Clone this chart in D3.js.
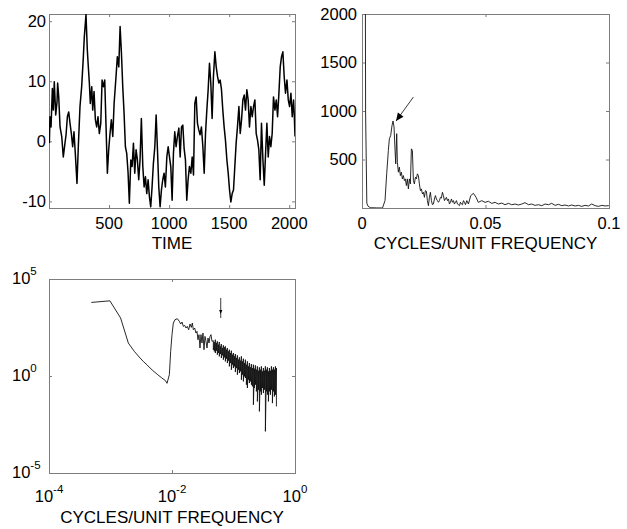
<!DOCTYPE html>
<html>
<head>
<meta charset="utf-8">
<script src="https://cdn.jsdelivr.net/npm/d3@7"></script>
<style>
  body { margin: 0; background: #fff; }
  svg { display: block; }
  text { font-family: "Liberation Sans", Arial, Helvetica, sans-serif; fill: #000; }
</style>
</head>
<body>
<div id="chart-area"></div>
<script>
// ---- Data ----

// Time series
const timeIdx = [3,8,17,28,36,44,56,67,72,81,92,106,119,133,142,153,164,175,186,197,208,219,233,244,258,272,286,294,308,319,328,336,344,356,364,375,386,397,408,419,431,442,453,464,475,486,497,508,519,531,542,558,569,581,592,603,614,625,636,647,658,669,681,692,703,714,725,736,747,758,769,781,792,803,814,825,836,847,858,869,881,892,903,914,925,936,947,958,969,981,992,1003,1014,1025,1036,1047,1058,1069,1081,1092,1103,1114,1125,1136,1147,1158,1169,1181,1192,1203,1214,1225,1236,1247,1258,1269,1281,1292,1303,1314,1325,1336,1347,1358,1369,1381,1392,1403,1414,1425,1436,1447,1458,1469,1481,1492,1503,1514,1525,1536,1547,1558,1569,1581,1592,1603,1614,1625,1636,1647,1658,1669,1681,1692,1703,1714,1725,1736,1747,1758,1769,1781,1792,1803,1814,1825,1836,1847,1858,1869,1881,1892,1903,1914,1925,1936,1947,1958,1969,1981,1992,2003,2014,2025,2036,2042,2048];
const timeVal = [-0.3,4.1,2.4,8.8,5.2,9.9,4.4,6.6,9.7,7.4,2.4,0.8,-2.6,-0.3,1.1,4.1,4.9,3.0,1.3,-0.9,1.6,-2.0,-7.0,-0.9,5.8,9.1,14.1,17.4,21.1,15.2,12.2,9.7,6.3,9.1,5.2,8.3,3.6,2.4,4.1,1.3,3.0,10.2,9.1,10.2,2.4,-5.3,-1.4,1.3,3.6,0.8,6.3,10.8,14.1,12.4,19.1,14.7,9.1,4.7,-0.9,-2.0,-5.1,-10.3,-3.1,-4.2,-0.3,-5.3,-1.4,-3.1,-6.4,-3.1,3.8,-4.2,-7.6,-5.9,-8.7,-6.4,-9.2,-10.9,-7.6,-3.7,-0.9,4.4,-1.4,-7.6,-10.9,-8.1,-6.4,-5.3,-7.6,-2.6,-0.9,-2.6,-4.2,-9.8,-2.0,1.6,-0.9,0.8,2.2,-2.6,2.4,2.7,-1.2,-3.1,-9.8,-6.4,-4.2,-5.3,-2.6,-5.6,6.3,7.4,3.0,1.9,1.1,2.4,-0.9,-5.3,1.3,5.2,8.6,13.0,9.7,3.8,10.8,14.9,12.4,10.8,9.7,10.2,8.6,5.2,2.4,0.2,-3.1,-5.3,-8.1,-10.1,-8.7,-8.1,-4.2,-0.3,2.4,5.8,1.3,3.6,6.9,7.7,5.2,8.6,6.9,2.4,5.8,4.1,5.8,6.9,1.3,0.2,-1.4,-6.4,3.0,-3.1,-7.3,-2.0,3.0,-2.6,0.8,-0.9,1.3,7.4,5.2,6.9,4.1,8.0,12.4,14.1,14.9,10.8,8.0,10.2,6.9,5.8,8.0,4.1,6.9,4.4,0.8];

// Periodogram, lowest frequencies (shared by both spectrum plots)
const lowFreq  = [0.000488,0.000977,0.00146,0.00195,0.00244,0.00293,0.00342,0.00391,0.00439,0.00488,0.00586,0.00684,0.00781,0.0083];
const lowPower = [6200,7500,980,50,18.6,9.5,5.6,3.8,2.6,1.9,1.17,0.79,0.58,0.42];

// Periodogram, linear plot (0 - 0.1)
const linFreq = [0.00932,0.0100,0.01067,0.01108,0.01162,0.01216,0.01257,0.01297,0.01338,0.01365,0.01405,
  0.01432,0.01473,0.01513,0.01554,0.01594,0.01635,0.01675,0.01716,0.01756,0.01797,
  0.01837,0.01878,0.01918,0.01959,0.02000,0.02040,0.02081,0.02121,0.02162,0.02202,
  0.02243,0.02283,0.02324,0.02364,0.02405,0.02446,0.02486,0.02527,0.02567,0.02608,
  0.02648,0.02689,0.02729,0.02770,0.02810,0.02851,0.02891,0.02932,0.02972,0.03013,
  0.03054,0.03094,0.03135,0.03175,0.03216,0.03256,0.03297,0.03337,0.03378,0.03418,
  0.03459,0.03499,0.03540,0.03580,0.03621,0.03662,0.03702,0.03743,0.03783,0.03824,
  0.03864,0.03905,0.03945,0.03986,0.04026,0.04067,0.04107,0.04148,0.04189,0.04243,0.04310,
  0.0440,0.0451,0.0462,0.0471,0.0485,0.0498,0.0512,0.0525,0.0539,0.0552,0.0566,0.0579,0.0593,0.0606,0.0620,
  0.0633,0.0647,0.0660,0.0674,0.0687,0.0701,0.0714,0.0728,0.0741,0.0755,0.0768,0.0782,0.0795,0.0809,0.0822,
  0.0836,0.0849,0.0863,0.0876,0.0890,0.0903,0.0917,0.0930,0.0944,0.0957,0.0971,0.0984,0.0998,0.1005];
const linPower = [76,352,593,714,748,852,897,834,593,455,766,
  472,369,421,334,369,300,334,283,300,231,
  300,197,300,248,610,593,283,248,317,300,
  352,334,248,179,197,145,162,110,179,172,
  76,24,110,162,76,34,41,93,128,93,
  76,59,76,110,103,162,128,76,93,110,
  76,93,41,59,93,59,76,41,59,76,
  41,34,24,59,41,34,76,59,34,76,41,
  127,151,110,58,76,58,69,48,58,41,51,34,48,34,41,
  31,41,55,34,41,27,34,24,41,34,48,27,38,24,31,
  21,31,21,27,17,27,21,41,24,17,27,21,24,20];

// Periodogram, log plot: rise and peak
const logFreq  = [0.00906,0.00951,0.0100,0.01051,0.01119,0.01222,0.01316,0.01384,0.01455,0.01528,0.01607,0.0169,0.01775,0.01866,0.01963,0.02062,0.02141,0.02223,0.02336,0.02455,0.02547,0.02646,0.02747,0.02851,0.0296,0.03073,0.0319,0.03312,0.0344,0.03572,0.03708,0.03849,0.03996,0.04148,0.04306,0.04471];
const logPower = [1.17,18.6,135,537,798,898,655,477,605,362,407,297,362,243,477,321,537,243,297,164,200,74,135,27.6,135,50,164,22.6,110,61,27.6,91,50,110,135,61];

// Periodogram, log plot: dense high-frequency band (upper / lower edge per column)
const bandFreq = [0.0470,0.0488,0.0507,0.0526,0.0546,0.0567,0.0588,0.0611,0.0634,0.0658,0.0684,0.0710,0.0737,0.0765,0.0794,0.0825,
  0.0856,0.0889,0.0923,0.0958,0.0995,0.1033,0.1072,0.1113,0.1156,0.1200,0.1246,0.1293,0.1343,0.1394,0.1447,0.1503,
  0.1560,0.1620,0.1681,0.1746,0.1812,0.1882,0.1953,0.2028,0.2106,0.2186,0.2269,0.2356,0.2446,0.2540,0.2637,0.2737,
  0.2842,0.2950,0.3063,0.3180,0.3302,0.3428,0.3559,0.3695,0.3836,0.3982,0.4134,0.4292,0.4456,0.4627,0.4803,0.4987];
const bandHigh = [65.9,56.4,74.3,50,61,41,56.4,33.7,44.5,27.6,37.9,29.9,33.7,22.6,27.6,18.6,
  22.6,15.3,20.1,12.5,15.3,10.3,13.6,8.43,11.6,6.92,9.12,6.14,10.3,5.68,7.8,4.66,
  6.92,3.82,5.68,3.13,4.66,2.79,4.14,2.57,3.82,2.38,3.53,2.11,3.13,1.87,2.79,2.11,
  3.13,1.73,2.57,1.87,3.13,2.11,2.79,1.73,2.57,1.87,3.13,2.11,2.79,2.11,3.13,2.57];
const bandLow = [22.6,18.6,15.3,20.1,12.5,15.3,10.3,13.6,8.43,11.6,6.92,9.12,5.68,7.8,4.66,6.14,
  3.13,4.66,2.11,3.82,2.57,3.13,1.6,2.57,1.17,2.11,1.42,1.73,0.644,1.17,0.528,0.957,
  0.785,0.356,0.24,0.644,0.434,0.528,0.356,0.292,0.033,0.24,0.356,0.161,0.049,0.197,0.015,0.161,
  0.109,0.24,0.132,0.197,0.0014,0.161,0.109,0.049,0.161,0.109,0.197,0.04,0.161,0.089,0.109,0.027];

// Ticks
const timeTicks = [500, 1000, 1500, 2000];
const valueTicks = [-10, 0, 10, 20];
const freqTicks = [0, 0.05, 0.1];
const freqTickLabels = ["0", "0.05", "0.1"];
const powerTicks = [500, 1000, 1500, 2000];
const logFreqTicks = [1e-4, 1e-2, 1];
const logFreqExp = ["-4", "-2", "0"];
const logPowerTicks = [1e-5, 1, 1e5];
const logPowerExp = ["-5", "0", "5"];

// Arrows: [tail, head] in data units
const linArrow = [[0.0208, 1144], [0.01378, 896]];
const logArrow = [[0.062, 10470], [0.062, 977]];

[[timeIdx, timeVal], [lowFreq, lowPower], [linFreq, linPower], [logFreq, logPower], [bandFreq, bandHigh], [bandFreq, bandLow]]
  .forEach(([a, b], i) => { if (a.length !== b.length) throw new Error("length mismatch " + i + ": " + a.length + " vs " + b.length); });

// ---- Layout ----
const axisColor = "#7d7d7d";
const tickFont = 16.5;  // tick labels
const labelFont = 17;   // axis titles
const tickLen = 3;

const svg = d3.select("#chart-area")
  .append("svg")
    .attr("width", 627)
    .attr("height", 529);

// Frame with inward ticks on all four sides
function frame(box, x, y, xTicks, yTicks, id) {
  const g = svg.append("g");
  const w = box.right - box.left, h = box.bottom - box.top;

  svg.append("clipPath").attr("id", id)
    .append("rect")
      .attr("x", box.left).attr("y", box.top)
      .attr("width", w).attr("height", h);

  const sides = [
    [d3.axisBottom(x).tickValues(xTicks), `translate(0,${box.bottom})`],
    [d3.axisTop(x).tickValues(xTicks), `translate(0,${box.top})`],
    [d3.axisLeft(y).tickValues(yTicks), `translate(${box.left},0)`],
    [d3.axisRight(y).tickValues(yTicks), `translate(${box.right},0)`]
  ];
  sides.forEach(([ax, tr]) => {
    const a = g.append("g").attr("transform", tr)
      .call(ax.tickSizeInner(-tickLen).tickSizeOuter(0).tickFormat(""));
    a.select(".domain").remove();
    a.selectAll("line").attr("stroke", axisColor);
  });

  g.append("rect")
    .attr("x", box.left + 0.5).attr("y", box.top + 0.5)
    .attr("width", w).attr("height", h)
    .attr("fill", "none")
    .attr("stroke", axisColor)
    .attr("stroke-width", 1);
  return g;
}

function xLabel(text, cx, y) {
  svg.append("text")
    .attr("x", cx).attr("y", y)
    .attr("text-anchor", "middle")
    .attr("font-size", labelFont + "px")
    .text(text);
}

// ---- Panel 1: time series ----
const b1 = { left: 49, right: 295, top: 14, bottom: 208 };
const x1 = d3.scaleLinear().domain([0, 2048]).range([b1.left, b1.right]);
const y1 = d3.scaleLinear().domain([-11.1, 21.2]).range([b1.bottom, b1.top]);

frame(b1, x1, y1, timeTicks, valueTicks, "clip1");

svg.append("path")
  .datum(d3.zip(timeIdx, timeVal))
  .attr("clip-path", "url(#clip1)")
  .attr("fill", "none")
  .attr("stroke", "#000")
  .attr("stroke-width", 1.5)
  .attr("stroke-linejoin", "round")
  .attr("d", d3.line().x(d => x1(d[0])).y(d => y1(d[1])));

timeTicks.forEach(t => {
  svg.append("text").attr("x", x1(t)).attr("y", 229)
    .attr("text-anchor", "middle").attr("font-size", tickFont + "px").text(t);
});
valueTicks.forEach(t => {
  svg.append("text").attr("x", b1.left - 3).attr("y", y1(t)).attr("dy", "0.36em")
    .attr("text-anchor", "end").attr("font-size", tickFont + "px").text(t);
});
xLabel("TIME", (b1.left + b1.right) / 2, 248.5);

// ---- Panel 2: periodogram, linear ----
const b2 = { left: 362, right: 609, top: 14, bottom: 208 };
const x2 = d3.scaleLinear().domain([0, 0.1]).range([b2.left, b2.right]);
const y2 = d3.scaleLinear().domain([0, 2000]).range([b2.bottom, b2.top]);

frame(b2, x2, y2, freqTicks, powerTicks, "clip2");

svg.append("path")
  .datum(d3.zip(lowFreq.concat(linFreq), lowPower.concat(linPower)))
  .attr("clip-path", "url(#clip2)")
  .attr("fill", "none")
  .attr("stroke", "#111")
  .attr("stroke-width", 0.9)
  .attr("d", d3.line().x(d => x2(d[0])).y(d => y2(d[1])));

freqTicks.forEach((t, i) => {
  svg.append("text").attr("x", x2(t)).attr("y", 229)
    .attr("text-anchor", "middle").attr("font-size", tickFont + "px").text(freqTickLabels[i]);
});
powerTicks.forEach(t => {
  svg.append("text").attr("x", b2.left - 5).attr("y", y2(t)).attr("dy", "0.36em")
    .attr("text-anchor", "end").attr("font-size", tickFont + "px").text(t);
});
xLabel("CYCLES/UNIT FREQUENCY", (b2.left + b2.right) / 2, 248.5);

// ---- Panel 3: periodogram, log-log ----
const b3 = { left: 49, right: 295, top: 279, bottom: 473 };
const x3 = d3.scaleLog().domain([1e-4, 1]).range([b3.left, b3.right]);
const y3 = d3.scaleLog().domain([1e-5, 1e5]).range([b3.bottom, b3.top]);

frame(b3, x3, y3, logFreqTicks, logPowerTicks, "clip3");

const band = [];
bandFreq.forEach((f, i) => { band.push([f, bandHigh[i]]); band.push([f, bandLow[i]]); });
const logLine = d3.zip(lowFreq, lowPower).concat(d3.zip(logFreq, logPower), band);

svg.append("path")
  .datum(logLine)
  .attr("clip-path", "url(#clip3)")
  .attr("fill", "none")
  .attr("stroke", "#111")
  .attr("stroke-width", 0.9)
  .attr("d", d3.line().x(d => x3(d[0])).y(d => y3(d[1])));

logFreqTicks.forEach((t, i) => {
  const tx = svg.append("text").attr("x", x3(t)).attr("y", 502)
    .attr("text-anchor", "middle").attr("font-size", tickFont + "px");
  tx.append("tspan").text("10");
  tx.append("tspan").attr("dy", -9).attr("font-size", "11.5px").text(logFreqExp[i]);
});
logPowerTicks.forEach((t, i) => {
  const tx = svg.append("text").attr("x", 12).attr("y", y3(t) + 5)
    .attr("text-anchor", "start").attr("font-size", tickFont + "px");
  tx.append("tspan").text("10");
  tx.append("tspan").attr("dy", -9).attr("font-size", "11.5px").text(logPowerExp[i]);
});
xLabel("CYCLES/UNIT FREQUENCY", (b3.left + b3.right) / 2, 523);

// ---- Arrows ----
function arrow(p0, p1, headLen, headHalf, width) {
  const dx = p1[0] - p0[0], dy = p1[1] - p0[1];
  const len = Math.hypot(dx, dy), ux = dx / len, uy = dy / len;
  svg.append("line")
    .attr("x1", p0[0]).attr("y1", p0[1]).attr("x2", p1[0]).attr("y2", p1[1])
    .attr("stroke", "#222").attr("stroke-width", width);
  const bx = p1[0] - ux * headLen, by = p1[1] - uy * headLen;
  svg.append("polygon")
    .attr("points", [[p1[0], p1[1]], [bx - uy * headHalf, by + ux * headHalf], [bx + uy * headHalf, by - ux * headHalf]].join(" "))
    .attr("fill", "#000");
}
arrow([x2(linArrow[0][0]), y2(linArrow[0][1])], [x2(linArrow[1][0]), y2(linArrow[1][1])], 8, 3.5, 0.9);
arrow([x3(logArrow[0][0]), y3(logArrow[0][1])], [x3(logArrow[1][0]), y3(logArrow[1][1]) - 4], 4, 1.6, 0.9);
svg.append("line")
  .attr("x1", x3(logArrow[1][0])).attr("x2", x3(logArrow[1][0]))
  .attr("y1", y3(logArrow[1][1]) - 4).attr("y2", y3(logArrow[1][1]))
  .attr("stroke", "#222").attr("stroke-width", 0.9);
</script>
</body>
</html>
